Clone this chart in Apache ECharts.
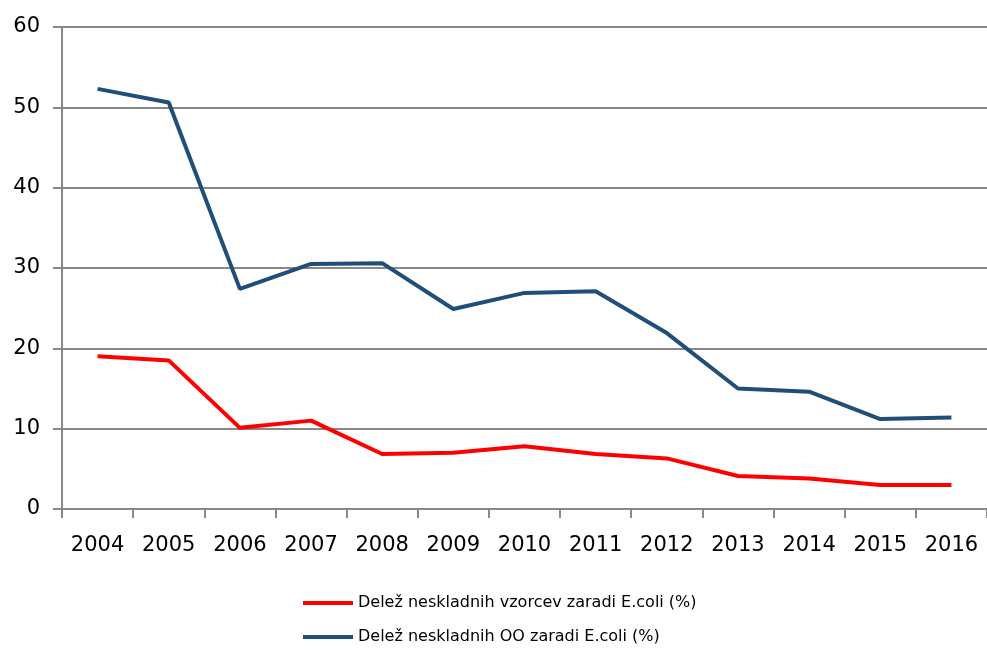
<!DOCTYPE html>
<html><head><meta charset="utf-8">
<script src="https://cdn.jsdelivr.net/npm/echarts@6/dist/echarts.min.js"></script>
<style>html,body{margin:0;padding:0;background:#fff}#c{width:987px;height:651px}</style>
</head><body><div id="c"></div>
<script>
const years = ['2004','2005','2006','2007','2008','2009','2010','2011','2012','2013','2014','2015','2016'];
const redName = 'Delež neskladnih vzorcev zaradi E.coli (%)';
const blueName = 'Delež neskladnih OO zaradi E.coli (%)';
const redValues = [19.0, 18.5, 10.1, 11.0, 6.85, 7.0, 7.8, 6.85, 6.3, 4.1, 3.8, 3.0, 3.0];
const blueValues = [52.3, 50.6, 27.4, 30.5, 30.6, 24.9, 26.9, 27.1, 21.9, 15.0, 14.6, 11.2, 11.4];

const chart = echarts.init(document.getElementById('c'));
const font = 'DejaVu Sans';
chart.setOption({
  animation: false,
  textStyle: {fontFamily: font},
  grid: {left: 62, top: 27, width: 928, height: 482, containLabel: false},
  legend: {
    orient: 'vertical', left: 298, top: 590, itemWidth: 50, itemHeight: 4, itemGap: 18,
    icon: 'rect',
    textStyle: {fontFamily: font, fontSize: 16, color: '#000'},
    data: [redName, blueName]
  },
  xAxis: {
    type: 'category', data: years, boundaryGap: true,
    axisLine: {lineStyle: {color: '#888', width: 2}},
    axisTick: {show: true, length: 9, lineStyle: {color: '#888', width: 2}},
    axisLabel: {color: '#000', fontFamily: font, fontSize: 21, margin: 26}
  },
  yAxis: {
    type: 'value', min: 0, max: 60, interval: 10,
    axisLine: {show: true, lineStyle: {color: '#888', width: 2}},
    axisTick: {show: true, length: 9, lineStyle: {color: '#888', width: 2}},
    splitLine: {lineStyle: {color: '#888', width: 2}},
    axisLabel: {color: '#000', fontFamily: font, fontSize: 21, margin: 22}
  },
  series: [
    {name: redName, type: 'line', data: redValues, symbol: 'none', color: '#FF0000', lineStyle: {width: 4, color: '#FF0000'}},
    {name: blueName, type: 'line', data: blueValues, symbol: 'none', color: '#1F4E79', lineStyle: {width: 4, color: '#1F4E79'}}
  ]
});
</script></body></html>
